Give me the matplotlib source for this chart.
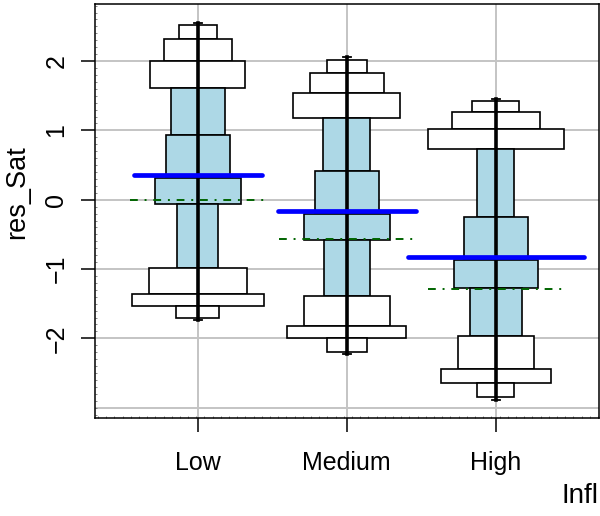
"""Letter-value style box plot of res_Sat by Infl."""

import matplotlib

matplotlib.use("Agg")
import matplotlib.pyplot as plt
from matplotlib.ticker import FixedLocator, MultipleLocator

plt.rcParams["font.family"] = ["Liberation Sans", "DejaVu Sans"]

GROUPS = ["Low", "Medium", "High"]

# box edges, top to bottom (10 boxes per group)
LOW_EDGES = [2.519, 2.321, 1.996, 1.606, 0.928, 0.308, -0.067, -0.990, -1.365, -1.538, -1.711]
MEDIUM_EDGES = [2.014, 1.831, 1.534, 1.178, 0.409, -0.207, -0.586, -1.385, -1.818, -2.000, -2.193]
HIGH_EDGES = [1.423, 1.269, 1.015, 0.735, -0.250, -0.870, -1.270, -1.967, -2.447, -2.649, -2.851]

# half widths of each box, in category units
LOW_HALF_WIDTHS = [0.126, 0.227, 0.319, 0.181, 0.215, 0.289, 0.137, 0.330, 0.443, 0.144]
MEDIUM_HALF_WIDTHS = [0.136, 0.248, 0.358, 0.158, 0.215, 0.287, 0.156, 0.287, 0.399, 0.133]
HIGH_HALF_WIDTHS = [0.158, 0.295, 0.456, 0.124, 0.215, 0.282, 0.174, 0.257, 0.371, 0.124]

WHISKER_TOP = [2.552, 2.053, 1.452]
WHISKER_BOTTOM = [-1.736, -2.226, -2.890]
MEANS = [0.356, -0.159, -0.823]
MEAN_HALF_WIDTHS = [0.428, 0.461, 0.589]
MEDIANS = [-0.005, -0.563, -1.289]
MEDIAN_HALF_WIDTH = 0.456

Y_TICKS = [-2, -1, 0, 1, 2]
Y_GRID = [-3, -2, -1, 0, 1, 2]

GRID_COLOR = "#c4c4c4"
BOX_FILL = "#add8e6"


def draw_group(axis, position, edges, half_widths):
    """Draw the stacked boxes for one group; the middle four are filled."""
    for index, half_width in enumerate(half_widths):
        top, bottom = edges[index], edges[index + 1]
        filled = 3 <= index <= 6
        axis.bar(
            position,
            top - bottom,
            width=2 * half_width,
            bottom=bottom,
            color=BOX_FILL if filled else "white",
            edgecolor="black",
            linewidth=1.2,
            zorder=3,
        )


fig = plt.figure(figsize=(6, 5.16), dpi=100)
ax = fig.add_axes([0.158, 0.1905, 0.841, 0.801])

positions = [1, 2, 3]
for y in Y_GRID:
    ax.axhline(y, color=GRID_COLOR, linewidth=1.4, zorder=1)
for x in positions:
    ax.axvline(x, color=GRID_COLOR, linewidth=1.4, zorder=1)

all_edges = [LOW_EDGES, MEDIUM_EDGES, HIGH_EDGES]
all_widths = [LOW_HALF_WIDTHS, MEDIUM_HALF_WIDTHS, HIGH_HALF_WIDTHS]
for pos, edges, widths in zip(positions, all_edges, all_widths):
    draw_group(ax, pos, edges, widths)

for i, pos in enumerate(positions):
    ax.plot(
        [pos - MEDIAN_HALF_WIDTH, pos + MEDIAN_HALF_WIDTH],
        [MEDIANS[i], MEDIANS[i]],
        color="#006400",
        linewidth=1.4,
        dashes=(4, 3.5, 1, 3.5),
        zorder=4,
    )
    ax.plot(
        [pos, pos],
        [WHISKER_BOTTOM[i], WHISKER_TOP[i]],
        color="black",
        linewidth=2.6,
        zorder=5,
    )
    for end in (WHISKER_BOTTOM[i], WHISKER_TOP[i]):
        ax.plot([pos - 0.025, pos + 0.025], [end, end], color="black",
                linewidth=1.3, zorder=5)
    ax.plot(
        [pos - MEAN_HALF_WIDTHS[i], pos + MEAN_HALF_WIDTHS[i]],
        [MEANS[i], MEANS[i]],
        color="blue",
        linewidth=3.4,
        solid_capstyle="round",
        zorder=6,
    )

ax.set_xlim(0.309, 3.695)
ax.set_ylim(-3.145, 2.818)

ax.set_xticks(positions)
ax.set_xticklabels(GROUPS)
ax.yaxis.set_major_locator(FixedLocator(Y_TICKS))
ax.set_yticklabels([f"{v}".replace("-", "\u2212") for v in Y_TICKS],
                   rotation=90, va="center")
ax.xaxis.set_minor_locator(MultipleLocator(0.055))
ax.yaxis.set_minor_locator(MultipleLocator(0.1))

ax.tick_params(which="major", direction="out", length=10, width=1.1,
               labelsize=18, colors="black")
ax.tick_params(axis="x", which="major", pad=14)
ax.tick_params(axis="y", which="major", pad=9)
ax.tick_params(which="minor", direction="in", length=1.1, width=0.5,
               color="#555555")

for spine in ax.spines.values():
    spine.set_linewidth(1.1)
    spine.set_zorder(7)

fig.text(17 / 600, 1 - 192 / 516, "res_Sat", rotation=90, ha="center",
         va="center", fontsize=19.5)
fig.text(598 / 600, 1 - 503 / 516, "Infl", ha="right", va="baseline",
         fontsize=20)

fig.savefig("out.png", dpi=100)
